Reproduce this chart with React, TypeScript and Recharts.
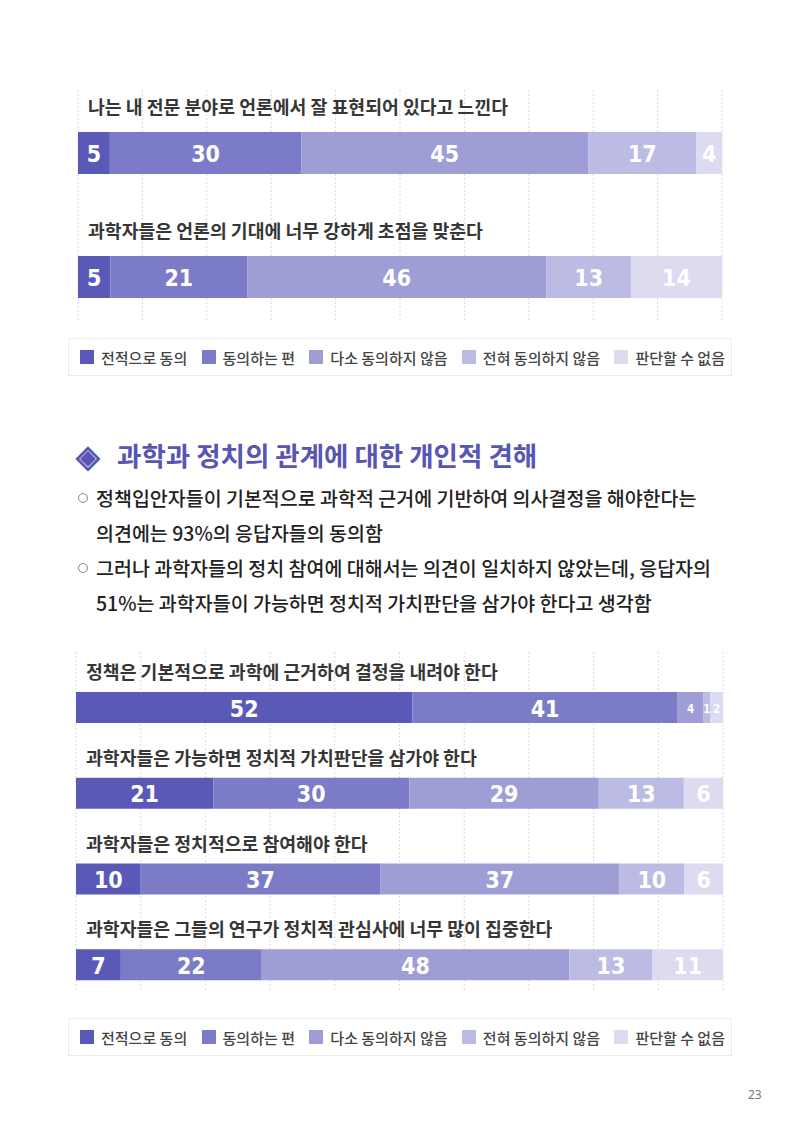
import React from "react";
import { BarChart, Bar, XAxis, YAxis, CartesianGrid, LabelList } from "recharts";

// Response options, shared by both charts
const SERIES = [
  "전적으로 동의",
  "동의하는 편",
  "다소 동의하지 않음",
  "전혀 동의하지 않음",
  "판단할 수 없음",
];
const KEYS = ["s1", "s2", "s3", "s4", "s5"];
const COLORS = ["#5b59b7", "#7c7bc8", "#9f9dd6", "#bcbbe4", "#dcdbf0"];

// Media questions (%)
const MEDIA_QUESTIONS = [
  "나는 내 전문 분야로 언론에서 잘 표현되어 있다고 느낀다",
  "과학자들은 언론의 기대에 너무 강하게 초점을 맞춘다",
];
const MEDIA_VALUES = [
  [5, 30, 45, 17, 4],
  [5, 21, 46, 13, 14],
];

// Science & politics questions (%)
const POLICY_QUESTIONS = [
  "정책은 기본적으로 과학에 근거하여 결정을 내려야 한다",
  "과학자들은 가능하면 정치적 가치판단을 삼가야 한다",
  "과학자들은 정치적으로 참여해야 한다",
  "과학자들은 그들의 연구가 정치적 관심사에 너무 많이 집중한다",
];
const POLICY_VALUES = [
  [52, 41, 4, 1, 2],
  [21, 30, 29, 13, 6],
  [10, 37, 37, 10, 6],
  [7, 22, 48, 13, 11],
];

const TICKS = [0, 0.1, 0.2, 0.3, 0.4, 0.5, 0.6, 0.7, 0.8, 0.9, 1];

const KR_FONT = "'Noto Sans CJK KR', 'Noto Sans', sans-serif";
const NUM_FONT = "'DejaVu Sans Condensed', 'DejaVu Sans', sans-serif";

const buildRows = (questions: string[], values: number[][]) =>
  questions.map((q, i) => {
    const row: any = { q };
    KEYS.forEach((k, j) => (row[k] = values[i][j]));
    return row;
  });

// dotted guides every 10%
const gridX = ({ xAxis, offset }: any) =>
  TICKS.map((t) =>
    xAxis && typeof xAxis.scale === "function"
      ? xAxis.scale(t)
      : offset.left + t * offset.width
  );

type ChartProps = {
  rows: any[];
  top: number;
  height: number;
  margin: { top: number; right: number; bottom: number; left: number };
  barSize: number;
  gridY: number;
  gridHeight: number;
  labelGap: number;
  smallBelow: number;
};

const StackedChart = ({
  rows,
  top,
  height,
  margin,
  barSize,
  gridY,
  gridHeight,
  labelGap,
  smallBelow,
}: ChartProps) => {
  // white value inside each segment; narrow segments get a smaller font
  const ValueLabel = (props: any) => {
    const { x, y, width, height: h, value } = props;
    const small = width < smallBelow;
    return (
      <text
        x={x + width / 2}
        y={y + h / 2 + 1}
        textAnchor="middle"
        dominantBaseline="central"
        fill="#ffffff"
        fontFamily={NUM_FONT}
        fontWeight="bold"
        fontSize={small ? 11.5 : 23}
        style={{ fontStretch: "condensed" }}
      >
        {value}
      </text>
    );
  };

  // question text sits above its bar
  const QuestionLabel = (props: any) => {
    const { x, y, value } = props;
    return (
      <text
        x={x + 10}
        y={y - labelGap}
        dominantBaseline="central"
        fill="#363636"
        fontFamily={KR_FONT}
        fontWeight={700}
        fontSize={18.3}
      >
        {value}
      </text>
    );
  };

  return (
    <div style={{ position: "absolute", left: 0, top }}>
      <BarChart
        width={800}
        height={height}
        data={rows}
        layout="vertical"
        stackOffset="expand"
        margin={margin}
        barSize={barSize}
      >
        <CartesianGrid
          horizontal={false}
          stroke="#dadada"
          strokeDasharray="2 2"
          y={gridY - top}
          height={gridHeight}
          verticalCoordinatesGenerator={gridX}
        />
        <XAxis
          type="number"
          domain={[0, 1]}
          ticks={TICKS}
          tick={false}
          axisLine={false}
          tickLine={false}
          height={0}
        />
        <YAxis type="category" dataKey="q" hide />
        {KEYS.map((k, i) => (
          <Bar
            key={k}
            dataKey={k}
            name={SERIES[i]}
            stackId="a"
            fill={COLORS[i]}
            isAnimationActive={false}
          >
            <LabelList dataKey={k} content={ValueLabel} />
            {i === 0 && <LabelList dataKey="q" content={QuestionLabel} />}
          </Bar>
        ))}
      </BarChart>
    </div>
  );
};

const LegendBox = ({ top }: { top: number }) => (
  <div
    style={{
      position: "absolute",
      left: 68,
      top,
      width: 664,
      height: 38,
      boxSizing: "border-box",
      border: "1px solid #ececec",
      display: "flex",
      alignItems: "center",
      justifyContent: "space-between",
      padding: "0 6px 0 11px",
      fontFamily: KR_FONT,
      fontSize: 15,
      color: "#444",
      fontWeight: 500,
    }}
  >
    {SERIES.map((s, i) => (
      <div key={s} style={{ display: "flex", alignItems: "center" }}>
        <span
          style={{
            display: "inline-block",
            width: 14,
            height: 14,
            background: COLORS[i],
            marginRight: 7,
          }}
        />
        {s}
      </div>
    ))}
  </div>
);

const Bullet = ({ top, lines }: { top: number; lines: string[] }) => (
  <div style={{ position: "absolute", left: 0, top }}>
    <span
      style={{
        position: "absolute",
        left: 78,
        top: 13,
        width: 8,
        height: 8,
        borderRadius: "50%",
        border: "1px solid #8a8a8a",
      }}
    />
    <div
      style={{
        position: "absolute",
        left: 96,
        top: 0,
        whiteSpace: "nowrap",
        fontFamily: KR_FONT,
        fontSize: 19.5,
        lineHeight: "35px",
        color: "#222",
        fontWeight: 500,
      }}
    >
      {lines.map((l) => (
        <div key={l}>{l}</div>
      ))}
    </div>
  </div>
);

export default function App() {
  const mediaRows = buildRows(MEDIA_QUESTIONS, MEDIA_VALUES);
  const policyRows = buildRows(POLICY_QUESTIONS, POLICY_VALUES);

  return (
    <div
      style={{
        position: "absolute",
        left: 0,
        top: 0,
        width: 800,
        height: 1132,
        background: "#fff",
        overflow: "hidden",
      }}
    >
      <StackedChart
        rows={mediaRows}
        top={0}
        height={390}
        margin={{ top: 91, right: 78, bottom: 51, left: 78 }}
        barSize={42}
        gridY={90}
        gridHeight={230}
        labelGap={26}
        smallBelow={10}
      />
      <LegendBox top={338} />

      <div
        style={{
          position: "absolute",
          left: 76,
          top: 436,
          whiteSpace: "nowrap",
          fontFamily: KR_FONT,
          fontWeight: 700,
          fontSize: 26.5,
          lineHeight: "38px",
          color: "#5855b3",
        }}
      >
        <span
          style={{
            display: "inline-block",
            width: 41,
            fontSize: 31,
            verticalAlign: "top",
            lineHeight: "36px",
          }}
        >
          ◈
        </span>
        과학과 정치의 관계에 대한 개인적 견해
      </div>

      <Bullet
        top={480}
        lines={[
          "정책입안자들이 기본적으로 과학적 근거에 기반하여 의사결정을 해야한다는",
          "의견에는 93%의 응답자들의 동의함",
        ]}
      />
      <Bullet
        top={550}
        lines={[
          "그러나 과학자들의 정치 참여에 대해서는 의견이 일치하지 않았는데, 응답자의",
          "51%는 과학자들이 가능하면 정치적 가치판단을 삼가야 한다고 생각함",
        ]}
      />

      <StackedChart
        rows={policyRows}
        top={600}
        height={420}
        margin={{ top: 65, right: 77, bottom: 12, left: 76 }}
        barSize={31}
        gridY={652}
        gridHeight={339}
        labelGap={21}
        smallBelow={30}
      />
      <LegendBox top={1018} />

      <div
        style={{
          position: "absolute",
          left: 748,
          top: 1086,
          fontFamily: "'Noto Sans', sans-serif",
          fontSize: 12,
          color: "#777",
        }}
      >
        23
      </div>
    </div>
  );
}
